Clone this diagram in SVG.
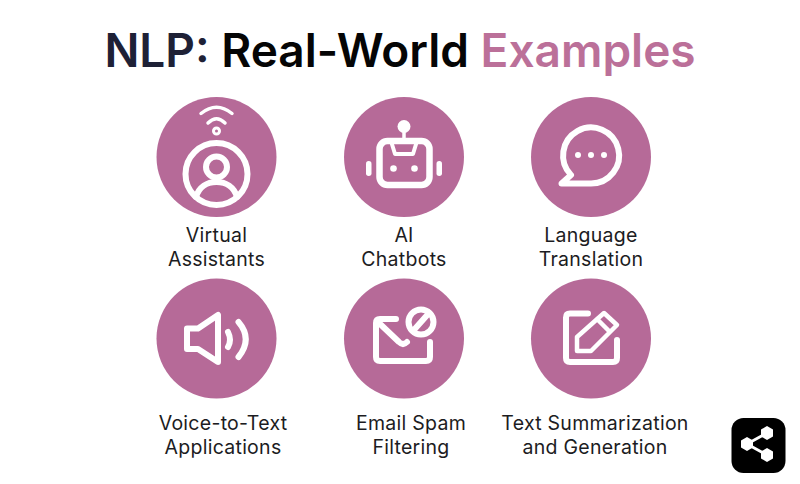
<svg xmlns="http://www.w3.org/2000/svg" width="800" height="484" viewBox="0 0 800 484">
<style>
.c{fill:#b66a98}
.i{fill:none;stroke:#fff;stroke-width:6;stroke-linecap:round;stroke-linejoin:round}
.d{fill:#fff}
.l{font-family:Inter,"Liberation Sans",sans-serif;font-size:19.5px;letter-spacing:.27px;fill:#1c1c22;text-anchor:middle}
.t{font-family:Inter,"Liberation Sans",sans-serif;font-size:46px;font-weight:600}
</style>
<rect width="800" height="484" fill="#fff"/>
<text id="title" class="t" x="400" y="66.500" text-anchor="middle"><tspan fill="#1e2136">NLP:</tspan><tspan fill="#050505"> Real-World</tspan><tspan fill="#bb7099"> Examples</tspan></text>
<g id="connectors"></g>
<g id="virtual-assistants">
<circle class="c" cx="216.500" cy="157" r="60"/>
<circle class="i" cx="216.500" cy="174" r="31"/>
<circle class="i" cx="216.500" cy="167" r="10.500"/>
<path class="i" d="M196 197C199 187 207 182 216.500 182S234 187 237 197"/>
<circle cx="216.500" cy="131" r="3" fill="none" stroke="#fff" stroke-width="3"/>
<path class="i" style="stroke-width:3.500" d="M208 123Q216.500 114.500 225 123M201 113.500Q216.500 101 232 113.500"/>
<text class="l"><tspan x="216.500" y="242">Virtual</tspan><tspan x="216.500" y="266">Assistants</tspan></text>
</g>
<g id="ai-chatbots">
<circle class="c" cx="404" cy="157" r="60"/>
<rect class="i" x="379.500" y="141" width="50" height="44" rx="8" style="stroke-width:6.500"/>
<circle class="d" cx="404" cy="126.500" r="6.500"/>
<path class="i" style="stroke-width:3.500" d="M404 130V141"/>
<path class="i" style="stroke-width:4" d="M391 141L395 154H413L417 141"/>
<circle class="d" cx="393.500" cy="168.500" r="3.300"/>
<circle class="d" cx="414.500" cy="168.500" r="3.300"/>
<rect class="d" x="366" y="161" width="5.500" height="15" rx="2.700"/>
<rect class="d" x="436.500" y="161" width="5.500" height="15" rx="2.700"/>
<text class="l"><tspan x="404" y="242">AI</tspan><tspan x="404" y="266">Chatbots</tspan></text>
</g>
<g id="language-translation">
<circle class="c" cx="591" cy="157" r="60"/>
<path class="i" d="M591 183.500H561.500L571 175A28 28 0 1 1 591 183.500Z"/>
<circle class="d" cx="578" cy="155" r="3"/>
<circle class="d" cx="591" cy="155" r="3"/>
<circle class="d" cx="604" cy="155" r="3"/>
<text class="l"><tspan x="591" y="242">Language</tspan><tspan x="591" y="266">Translation</tspan></text>
</g>
<g id="voice-to-text">
<circle class="c" cx="216.500" cy="338.500" r="60"/>
<path class="i" d="M187 328.500H198L218 315V362L198 349H187Z"/>
<path class="i" d="M228 332Q232 340 228 347M238.500 322Q253 339 238.500 357"/>
<text class="l"><tspan x="223" y="430">Voice-to-Text</tspan><tspan x="223" y="454">Applications</tspan></text>
</g>
<g id="email-spam">
<circle class="c" cx="404" cy="338.500" r="60"/>
<path class="i" d="M396 319H380Q376 319 376 323V357Q376 361 380 361H426Q430 361 430 357V342"/>
<path class="i" d="M378 322L399 342Q403 346 407 342"/>
<circle class="i" cx="421" cy="322" r="12.500"/>
<path class="i" d="M413 331L429 313"/>
<text class="l"><tspan x="411" y="430">Email Spam</tspan><tspan x="411" y="454">Filtering</tspan></text>
</g>
<g id="text-summarization">
<circle class="c" cx="591" cy="338.500" r="60"/>
<path class="i" d="M588 313.500H570Q566 313.500 566 317.500V358Q566 362 570 362H613Q617 362 617 358V340"/>
<path class="i" style="stroke-width:4.500" d="M577 351V337L604 313L617 325L591 351ZM597 319L610 332"/>
<text class="l"><tspan x="595" y="430">Text Summarization</tspan><tspan x="595" y="454">and Generation</tspan></text>
</g>
<g id="share-badge">
<rect x="731.500" y="418" width="54" height="55" rx="12" fill="#000"/>
<path d="M747 444L767 433M747 444L767 455" stroke="#fff" stroke-width="3" fill="none"/>
<polygon class="d" points="767,426 773,429.500 773,436.500 767,440 761,436.500 761,429.500"/>
<polygon class="d" points="767,448 773,451.500 773,458.500 767,462 761,458.500 761,451.500"/>
<polygon class="d" points="747,437 753,440.500 753,447.500 747,451 741,447.500 741,440.500"/>
</g>
</svg>
